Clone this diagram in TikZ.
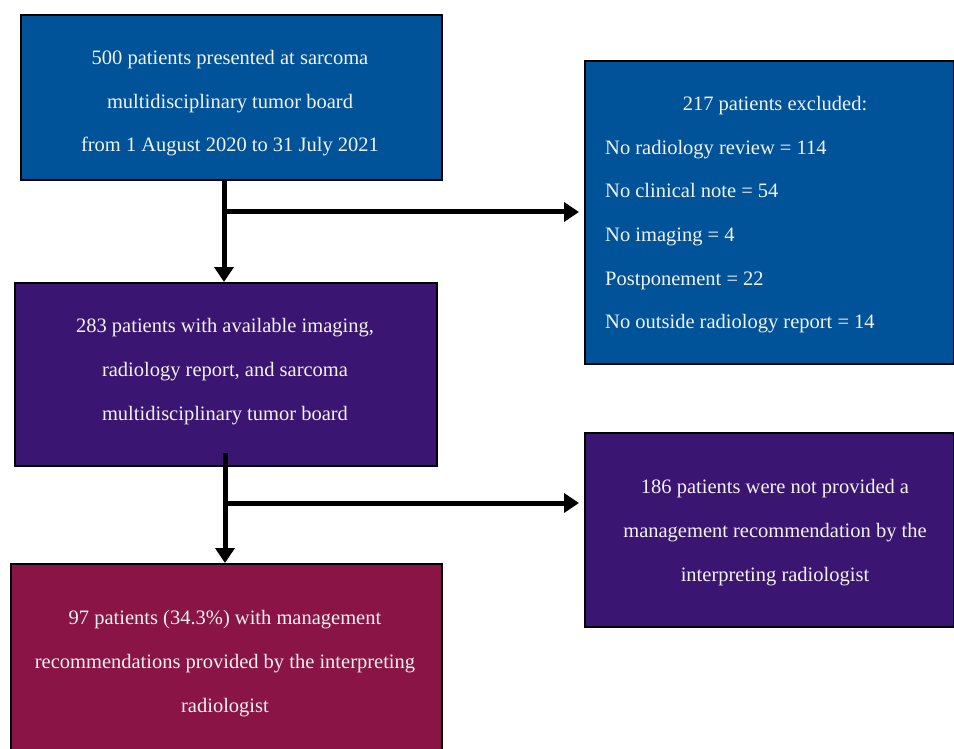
\documentclass[tikz,border=0pt]{standalone}
\usepackage{fontspec}
\setmainfont{Liberation Serif}
\usetikzlibrary{arrows.meta}
\definecolor{cblue}{RGB}{0,83,152}
\definecolor{cpurple}{RGB}{58,22,114}
\definecolor{cmaroon}{RGB}{137,20,69}
\definecolor{ctext}{RGB}{242,242,242}
\begin{document}
\begin{tikzpicture}[x=1pt,y=-1pt,
  box/.style={draw=black,line width=1.6pt,rectangle,inner sep=0pt,anchor=north west},
  txt/.style={text=ctext,inner sep=0pt,font=\fontsize{20.5}{43.6}\selectfont},
  conn/.style={draw=black,line width=5pt,-{Triangle[length=15pt,width=19pt]}}]
\useasboundingbox (0,0) rectangle (954,749);
\clip (0,0) rectangle (954,749);
% boxes
\node[box,fill=cblue,minimum width=421pt,minimum height=165pt] (b1) at (20,14) {};
\node[box,fill=cpurple,minimum width=422pt,minimum height=183pt] (b2) at (14,282) {};
\node[box,fill=cmaroon,minimum width=431pt,minimum height=200pt] (b5) at (10,563) {};
\node[box,fill=cblue,minimum width=369pt,minimum height=303pt] (b3) at (584,60) {};
\node[box,fill=cpurple,minimum width=369pt,minimum height=194pt] (b4) at (584,432) {};
% texts
\node[txt,align=center] (t1) at (230,103.5) {500 patients presented at sarcoma\\multidisciplinary tumor board\\from 1 August 2020 to 31 July 2021};
\node[txt,align=center] (t2) at (225,371.5) {283 patients with available imaging,\\radiology report, and sarcoma\\multidisciplinary tumor board};
\node[txt,align=center] (t5) at (225,663.5) {97 patients (34.3\%) with management\\recommendations provided by the interpreting\\radiologist};
\node[txt] (t3a) at (775,105.5) {217 patients excluded:};
\node[txt,align=left,anchor=west] (t3b) at (605,236.5) {No radiology review = 114\\No clinical note = 54\\No imaging = 4\\Postponement = 22\\No outside radiology report = 14};
\node[txt,align=center] (t4) at (775,532.5) {186 patients were not provided a\\management recommendation by the\\interpreting radiologist};
% connectors
\coordinate (s1) at (224,179);
\coordinate (j1) at (224,212);
\coordinate (s2) at (225,453);
\coordinate (j2) at (225,503);
\draw[conn] (s1) -- (b2.north -| s1);
\draw[conn,shorten >=5pt] (j1) -- (b3.west |- j1);
\draw[conn] (s2) -- (b5.north -| s2);
\draw[conn,shorten >=5pt] (j2) -- (b4.west |- j2);
\end{tikzpicture}
\end{document}
